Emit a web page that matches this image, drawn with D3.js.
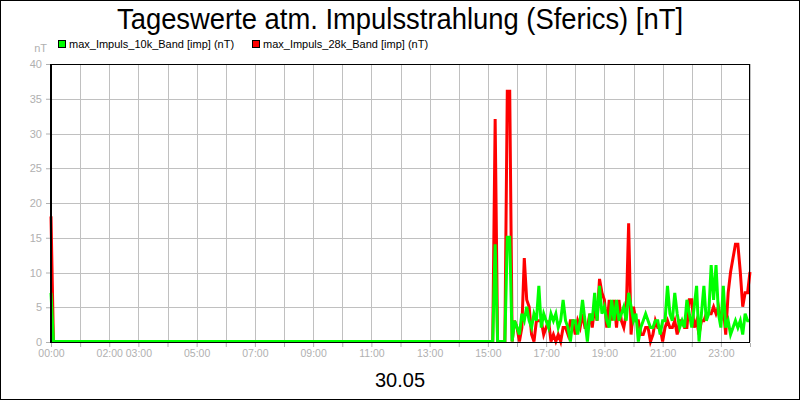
<!DOCTYPE html>
<html>
<head>
<meta charset="utf-8">
<script src="https://cdn.jsdelivr.net/npm/d3@7"></script>
<style>
  body { margin: 0; background: #fff; }
  svg { display: block; font-family: "Liberation Sans", Arial, sans-serif; }
</style>
</head>
<body>
<div class="view1"></div>
<script>
// sample times (HH:MM), 5 minute steps where there is signal
const times = [
  "00:00","00:05","15:10","15:15","15:20","15:35","15:40","15:45","15:50","15:55",
  "16:00","16:05","16:10","16:15","16:20","16:25","16:30","16:35","16:40","16:45","16:50","16:55",
  "17:00","17:05","17:10","17:15","17:20","17:25","17:30","17:35","17:40","17:45","17:50","17:55",
  "18:00","18:05","18:10","18:15","18:20","18:25","18:30","18:35","18:40","18:45","18:50","18:55",
  "19:00","19:05","19:10","19:15","19:20","19:25","19:30","19:35","19:40","19:45","19:50","19:55",
  "20:00","20:05","20:10","20:15","20:20","20:25","20:30","20:35","20:40","20:45","20:50","20:55",
  "21:00","21:05","21:10","21:15","21:20","21:25","21:30","21:35","21:40","21:45","21:50","21:55",
  "22:00","22:05","22:10","22:15","22:20","22:25","22:30","22:35","22:40","22:45","22:50","22:55",
  "23:00","23:05","23:10","23:15","23:20","23:25","23:30","23:35","23:40","23:45","23:50","23:55",
  "24:00"
];

const impuls10k = [
  7,0,0,14,0,0,15,15,0,3,
  2,1,4,3,5,3,2,4,3,8,2,4,
  3,2,4,3,4,2,3,6,3,2,0,3,
  3,1,3,6,3,0,4,3,7,3,8,4,
  5,3,2,6,3,6,3,4,5,3,7,5,
  3,4,0,2,3,4,3,2,2,3,3,1,
  3,3,8,4,3,7,4,2,3,2,6,4,
  2,5,8,0,4,8,3,4,11,6,11,4,
  2,8,2,3,1,2,3,2,3,1,4,3,
  3
];

const impuls28k = [
  18,0,0,32,0,0,36,36,0,3,
  2,0,2,12,6,5,1,0,3,3,3,1,
  2,3,0,1,0,1,0,2,2,1,3,3,
  1,3,2,4,2,2,4,2,5,3,9,7,
  6,2,6,3,6,2,6,3,2,4,17,1,
  5,3,3,1,1,2,2,0,1,3,2,2,
  0,2,3,2,2,3,1,3,3,2,2,6,
  6,2,3,1,3,3,4,4,4,5,4,5,
  3,5,1,7,10,12,14,14,10,5,7,7,
  10
];

const seriesNames = ["max_Impuls_10k_Band [imp] (nT)", "max_Impuls_28k_Band [imp] (nT)"];
const seriesColors = ["#00ff00", "#ff0000"];

const yTicks = [0, 5, 10, 15, 20, 25, 30, 35, 40];
const xLabelHours = [0, 2, 3, 5, 7, 9, 11, 13, 15, 17, 19, 21, 23];

const titleText = "Tageswerte atm. Impulsstrahlung (Sferics) [nT]";
const dateText = "30.05";

// chart size
const width = 800, height = 400;
const margin = {top: 64, right: 50, bottom: 58, left: 51};

function toMinutes(t) {
  const p = t.split(":");
  return +p[0] * 60 + +p[1];
}

const svg = d3.select(".view1").append("svg")
  .attr("width", width)
  .attr("height", height);

svg.append("rect")
  .attr("x", 0).attr("y", 0)
  .attr("width", width).attr("height", height)
  .attr("fill", "#fff");

const x = d3.scaleLinear().domain([0, 1440]).range([margin.left, width - margin.right]);
const y = d3.scaleLinear().domain([0, 40]).range([height - margin.bottom, margin.top]);

// grid
const grid = svg.append("g").attr("stroke", "#c0c0c0").attr("stroke-width", 1);
grid.selectAll("line.h")
  .data(yTicks)
  .enter().append("line")
  .attr("x1", margin.left).attr("x2", width - margin.right)
  .attr("y1", d => Math.round(y(d)) + 0.5).attr("y2", d => Math.round(y(d)) + 0.5);
grid.selectAll("line.v")
  .data(d3.range(0, 1441, 60))
  .enter().append("line")
  .attr("y1", margin.top).attr("y2", height - margin.bottom)
  .attr("x1", d => Math.round(x(d)) + 0.5).attr("x2", d => Math.round(x(d)) + 0.5);

// data lines
const points = times.map((t, i) => ({m: toMinutes(t), a: impuls10k[i], b: impuls28k[i]}));

const line28 = d3.line().x(d => x(d.m)).y(d => y(d.b) - 0.5);
const line10 = d3.line().x(d => x(d.m)).y(d => y(d.a) - 0.5);

svg.append("path")
  .datum(points)
  .attr("d", line28)
  .attr("fill", "none")
  .attr("stroke", seriesColors[1])
  .attr("stroke-width", 3)
  .attr("stroke-linejoin", "miter");

svg.append("path")
  .datum(points)
  .attr("d", line10)
  .attr("fill", "none")
  .attr("stroke", seriesColors[0])
  .attr("stroke-width", 3)
  .attr("stroke-linejoin", "miter");

// frame
svg.append("rect")
  .attr("x", margin.left + 0.5).attr("y", margin.top + 0.5)
  .attr("width", width - margin.left - margin.right - 1)
  .attr("height", height - margin.top - margin.bottom)
  .attr("fill", "none")
  .attr("stroke", "#000")
  .attr("stroke-width", 1);
svg.append("line")
  .attr("x1", margin.left - 0.5).attr("x2", margin.left - 0.5)
  .attr("y1", margin.top).attr("y2", height - margin.bottom + 1)
  .attr("stroke", "#000").attr("stroke-width", 1);

// y axis
const yAxis = svg.append("g")
  .attr("transform", "translate(" + (margin.left - 1) + ",0)")
  .call(d3.axisLeft(y).tickValues(yTicks).tickSize(4).tickPadding(4));
yAxis.select(".domain").remove();
yAxis.selectAll("line").attr("stroke", "#b0b0b0");
yAxis.selectAll("text")
  .attr("fill", "#b0b0b0")
  .style("font-size", "11px")
  .style("font-family", "Liberation Sans, Arial, sans-serif");

// x axis
const xAxis = svg.append("g")
  .attr("transform", "translate(0," + (height - margin.bottom + 1) + ")")
  .call(d3.axisBottom(x).tickValues(d3.range(0, 1441, 60)).tickSize(4).tickPadding(3)
    .tickFormat(d => xLabelHours.includes(d / 60) ? d3.format("02")(d / 60) + ":00" : ""));
xAxis.select(".domain").remove();
xAxis.selectAll("line").attr("stroke", "#b0b0b0");
xAxis.selectAll("text")
  .attr("fill", "#b0b0b0")
  .style("font-size", "10.5px")
  .style("font-family", "Liberation Sans, Arial, sans-serif");

// unit label
svg.append("text")
  .attr("x", 47).attr("y", 52)
  .attr("text-anchor", "end")
  .attr("fill", "#b0b0b0")
  .style("font-size", "11px")
  .text("nT");

// title
svg.append("text")
  .attr("x", width / 2).attr("y", 29)
  .attr("text-anchor", "middle")
  .style("font-size", "29px")
  .attr("textLength", 566)
  .attr("lengthAdjust", "spacingAndGlyphs")
  .text(titleText);

// legend
const legendX = [58, 252];
const legend = svg.append("g");
seriesNames.forEach((name, i) => {
  legend.append("rect")
    .attr("x", legendX[i] + 0.5).attr("y", 40.5)
    .attr("width", 7).attr("height", 7)
    .attr("fill", seriesColors[i])
    .attr("stroke", "#000");
  legend.append("text")
    .attr("x", legendX[i] + 11).attr("y", 48)
    .style("font-size", "11px")
    .text(name);
});

// date label
svg.append("text")
  .attr("x", width / 2).attr("y", 387)
  .attr("text-anchor", "middle")
  .style("font-size", "20px")
  .text(dateText);

// outer border
svg.append("rect")
  .attr("x", 0.5).attr("y", 0.5)
  .attr("width", width - 1).attr("height", height - 1)
  .attr("fill", "none")
  .attr("stroke", "#000");
</script>
</body>
</html>
